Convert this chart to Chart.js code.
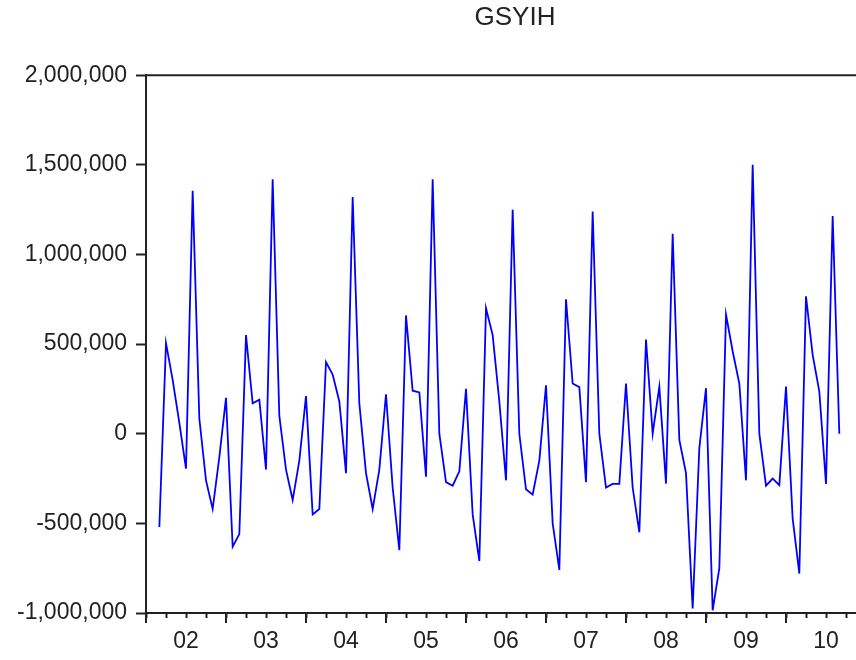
<!DOCTYPE html>
<html>
<head>
<meta charset="utf-8">
<title>GSYIH</title>
<script src="https://cdn.jsdelivr.net/npm/chart.js@4.4.1/dist/chart.umd.min.js"></script>
<style>
  html, body { margin: 0; padding: 0; overflow: hidden; background: #fff; }
  #wrap { width: 1030px; height: 660px; }
</style>
</head>
<body>
<div id="wrap"><canvas id="chart" width="1030" height="660"></canvas></div>
<script>
// monthly GSYIH values, series starts 2002M03
const firstMonth = 2; // months after Jan 2002
const gsyih2002 = [-520000, 505000, 300000, 60000, -195000, 1355000, 85000, -260000, -420000, -130000];
const gsyih2003 = [200000, -630000, -560000, 550000, 170000, 190000, -200000, 1420000, 100000, -200000, -370000, -150000];
const gsyih2004 = [210000, -450000, -420000, 400000, 330000, 180000, -220000, 1320000, 170000, -220000, -420000, -200000];
const gsyih2005 = [220000, -300000, -650000, 660000, 240000, 230000, -240000, 1420000, 0, -270000, -290000, -210000];
const gsyih2006 = [250000, -450000, -710000, 700000, 550000, 180000, -260000, 1250000, 0, -310000, -340000, -150000];
const gsyih2007 = [270000, -500000, -760000, 750000, 280000, 260000, -270000, 1240000, 0, -300000, -280000, -280000];
const gsyih2008 = [280000, -300000, -550000, 525000, 0, 263000, -278000, 1115000, -35000, -220000, -975000, -80000];
const gsyih2009 = [254000, -985000, -750000, 665000, 460000, 280000, -260000, 1500000, 0, -290000, -250000, -287000];
const gsyih2010 = [263000, -474000, -780000, 767000, 440000, 235000, -280000, 1215000, 0];

const yearLabels = ['02', '03', '04', '05', '06', '07', '08', '09', '10'];
const yTicks = [-1000000, -500000, 0, 500000, 1000000, 1500000, 2000000];

const series = [].concat(gsyih2002, gsyih2003, gsyih2004, gsyih2005, gsyih2006,
  gsyih2007, gsyih2008, gsyih2009, gsyih2010);
// x = months since Jan 2002
const points = series.map((v, i) => ({ x: firstMonth + i, y: v }));
const lastMonth = yearLabels.length * 12;

const fontFamily = "'Liberation Sans', Arial, sans-serif";
const ink = '#222';

// longer ticks at year boundaries + closing frame on top/right
const framePlugin = {
  id: 'frame',
  afterDraw(chart) {
    const { ctx, chartArea } = chart;
    const xs = chart.scales.x;
    ctx.save();
    ctx.strokeStyle = ink;
    ctx.lineWidth = 2;
    ctx.beginPath();
    ctx.moveTo(chartArea.left, chartArea.top);
    ctx.lineTo(chartArea.right, chartArea.top);
    ctx.lineTo(chartArea.right, chartArea.bottom);
    ctx.stroke();
    ctx.beginPath();
    for (let m = 0; m <= lastMonth; m += 12) {
      const px = Math.round(xs.getPixelForValue(m));
      ctx.moveTo(px, chartArea.bottom);
      ctx.lineTo(px, chartArea.bottom + 10);
    }
    ctx.stroke();
    ctx.restore();
  }
};

new Chart(document.getElementById('chart'), {
  type: 'line',
  data: {
    datasets: [{
      label: 'GSYIH',
      data: points,
      borderColor: '#0000ff',
      borderWidth: 1.8,
      pointRadius: 0,
      tension: 0,
      fill: false
    }]
  },
  options: {
    responsive: false,
    animation: false,
    layout: { padding: 0 },
    plugins: {
      legend: { display: false },
      tooltip: { enabled: false },
      title: {
        display: true,
        text: 'GSYIH',
        color: ink,
        font: { family: fontFamily, size: 26, weight: 'normal' },
        padding: { top: 2, bottom: 42 }
      }
    },
    scales: {
      x: {
        type: 'linear',
        min: 0,
        max: lastMonth,
        afterBuildTicks(axis) {
          const t = [];
          for (let m = 0; m <= lastMonth; m += 3) t.push({ value: m });
          axis.ticks = t;
        },
        afterFit(axis) { axis.height = 47; },
        grid: { drawOnChartArea: false, drawTicks: true, tickLength: 5, tickColor: ink, tickWidth: 2 },
        border: { color: ink, width: 2 },
        ticks: {
          autoSkip: false,
          maxRotation: 0,
          padding: 10,
          color: ink,
          font: { family: fontFamily, size: 23 },
          callback: (v) => (v % 12 === 6 ? yearLabels[(v - 6) / 12] : '')
        }
      },
      y: {
        min: yTicks[0],
        max: yTicks[yTicks.length - 1],
        afterBuildTicks(axis) { axis.ticks = yTicks.map(v => ({ value: v })); },
        afterFit(axis) { axis.width = 146; },
        grid: { drawOnChartArea: false, drawTicks: true, tickLength: 10, tickColor: ink, tickWidth: 2 },
        border: { color: ink, width: 2 },
        ticks: {
          padding: 9,
          color: ink,
          font: { family: fontFamily, size: 23 },
          callback: (v) => v.toLocaleString('en-US')
        }
      },
      // empty right gutter (the plot runs past the visible edge)
      gutter: {
        position: 'right',
        min: 0,
        max: 1,
        afterFit(axis) { axis.width = 164; },
        grid: { display: false },
        border: { display: false },
        ticks: { display: false }
      }
    }
  },
  plugins: [framePlugin]
});
</script>
</body>
</html>
